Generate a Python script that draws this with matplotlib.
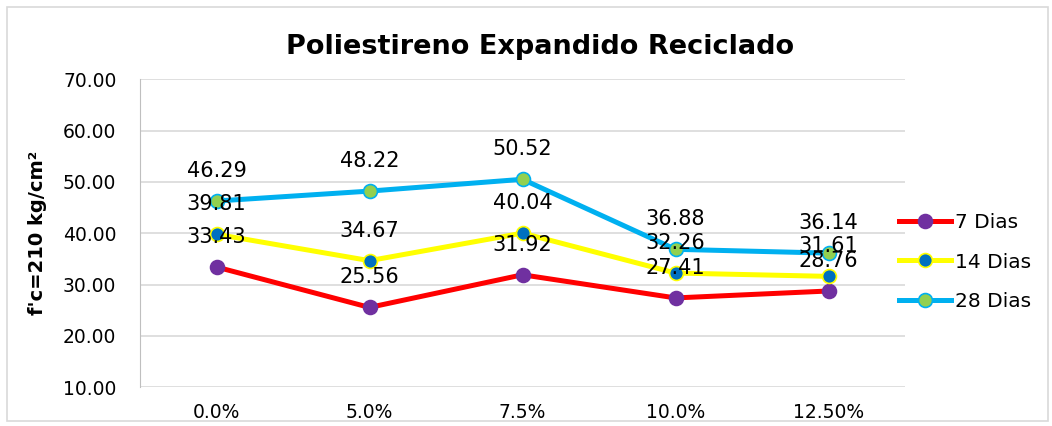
import matplotlib
matplotlib.use('Agg')
import matplotlib.pyplot as plt
from matplotlib.patches import Rectangle

# data
categories = ['0.0%', '5.0%', '7.5%', '10.0%', '12.50%']
dias_7 = [33.43, 25.56, 31.92, 27.41, 28.76]
dias_14 = [39.81, 34.67, 40.04, 32.26, 31.61]
dias_28 = [46.29, 48.22, 50.52, 36.88, 36.14]
series_names = ['7 Dias', '14 Dias', '28 Dias']
y_ticks = [10, 20, 30, 40, 50, 60, 70]

W, H = 1052, 426
fig = plt.figure(figsize=(W / 100, H / 100), dpi=100)
ax = fig.add_axes([140 / W, 1 - 387.3 / H, 765 / W, (387.3 - 79.3) / H])

# outer chart border
fig.patches.append(Rectangle((7 / W, 1 - 421 / H), (1048 - 7) / W, (421 - 7) / H,
                             transform=fig.transFigure, fill=False,
                             edgecolor='#D9D9D9', lw=1.2))

styles = [
    dict(color='#FF0000', mfc='#7030A0', mec='#7030A0'),
    dict(color='#FFFF00', mfc='#0070C0', mec='#FFFF00'),
    dict(color='#00B0F0', mfc='#92D050', mec='#00B0F0'),
]
x = list(range(len(categories)))
for vals, name, st in zip([dias_7, dias_14, dias_28], series_names, styles):
    ax.plot(x, vals, lw=3.6, marker='o', ms=10, mew=1.2, label=name,
            zorder=3, **st)
    for xi, v in zip(x, vals):
        ax.annotate('%.2f' % v, (xi, v), xytext=(0, 30),
                    textcoords='offset pixels', ha='center', va='center',
                    fontsize=15, color='black', zorder=5)

ax.set_xlim(-0.5, len(categories) - 0.5)
ax.set_ylim(10, 70)
ax.set_yticks(y_ticks)
ax.set_yticklabels(['%.2f' % t for t in y_ticks], fontsize=13.5)
ax.set_xticks(x)
ax.set_xticklabels(categories, fontsize=13.5)
ax.tick_params(axis='y', length=0, pad=17)
ax.tick_params(axis='x', length=0, pad=11)
ax.grid(axis='y', color='#D9D9D9', lw=1.2)
ax.set_axisbelow(True)
for s in ['top', 'right', 'bottom']:
    ax.spines[s].set_visible(False)
ax.spines['left'].set_color('#BFBFBF')

fig.text(540 / W, 1 - 47 / H, 'Poliestireno Expandido Reciclado',
         ha='center', va='center', fontsize=19.5, fontweight='bold')
fig.text(38 / W, 1 - 233 / H, "f'c=210 kg/cm²", rotation=90,
         ha='center', va='center', fontsize=14, fontweight='bold')

fig.legend(loc='center left', bbox_to_anchor=(899 / W, 1 - 262 / H),
           frameon=False, fontsize=14.5, handlelength=2.6, handletextpad=0.2,
           labelspacing=1.0, borderpad=0, borderaxespad=0)

fig.savefig('out.png', dpi=100)
